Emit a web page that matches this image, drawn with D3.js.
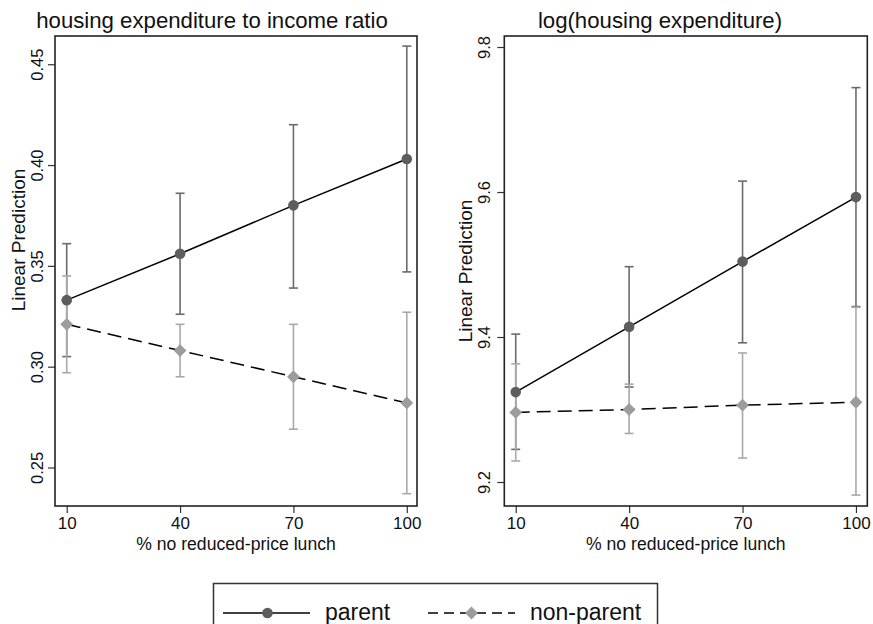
<html>
<head>
<style>
  body { margin: 0; background: white; }
  text { font-family: "Liberation Sans", Arial, sans-serif; fill: #111; }
</style>
</head>
<body>
<svg id="chart" width="873" height="624"></svg>

<script src="https://cdn.jsdelivr.net/npm/d3@7"></script>
<script>

// ---- data ----
var xCats = [10, 40, 70, 100]
var xTickLabels = ["10", "40", "70", "100"]
var seriesNames = ["parent", "non-parent"]

// panel 1: housing expenditure to income ratio
var ratioParent    = [0.333, 0.356, 0.380, 0.403]
var ratioParentLo  = [0.305, 0.326, 0.339, 0.347]
var ratioParentHi  = [0.361, 0.386, 0.420, 0.459]
var ratioNonpar    = [0.321, 0.308, 0.295, 0.282]
var ratioNonparLo  = [0.297, 0.295, 0.269, 0.237]
var ratioNonparHi  = [0.345, 0.321, 0.321, 0.327]
var ratioTicks = [0.25, 0.30, 0.35, 0.40, 0.45]

// panel 2: log(housing expenditure)
var logParent    = [9.324, 9.414, 9.504, 9.593]
var logParentLo  = [9.245, 9.331, 9.392, 9.442]
var logParentHi  = [9.404, 9.497, 9.615, 9.744]
var logNonpar    = [9.296, 9.300, 9.306, 9.310]
var logNonparLo  = [9.229, 9.267, 9.233, 9.182]
var logNonparHi  = [9.363, 9.335, 9.378, 9.441]
var logTicks = [9.2, 9.4, 9.6, 9.8]

// ---- styles ----
var parentCI = "#6b6b6b", nonparCI = "#a9a9a9"
var parentDot = "#5d5d5d", nonparDot = "#9c9c9c"

var svg = d3.select("#chart")

function rows(est, lo, hi) {   // zip arrays into point objects
  return xCats.map(function(x, i) { return {x: x, y: est[i], lo: lo[i], hi: hi[i]} })
}

var panels = [
  { title: "housing expenditure to income ratio", titleX: 212,
    box: [55, 36, 417, 506], xdom: [6.9, 102.7], ydom: [0.2309, 0.4640],
    ticks: ratioTicks, fmt: d3.format(".2f"), labOff: 12, ytitleX: 25, ytitleY: 240,
    parent: rows(ratioParent, ratioParentLo, ratioParentHi),
    nonpar: rows(ratioNonpar, ratioNonparLo, ratioNonparHi) },
  { title: "log(housing expenditure)", titleX: 660,
    box: [504.3, 36, 867.3, 506], xdom: [6.98, 103], ydom: [9.1669, 9.8152],
    ticks: logTicks, fmt: d3.format(".1f"), labOff: 14, ytitleX: 472, ytitleY: 271,
    parent: rows(logParent, logParentLo, logParentHi),
    nonpar: rows(logNonpar, logNonparLo, logNonparHi) }
]

// diamond marker, half-diagonal h
function diamondPath(h) { return "M0," + (-h) + "L" + h + ",0L0," + h + "L" + (-h) + ",0Z" }

panels.forEach(function(p) {
  var x = d3.scaleLinear().domain(p.xdom).range([p.box[0], p.box[2]])
  var y = d3.scaleLinear().domain(p.ydom).range([p.box[3], p.box[1]])

  // title
  svg.append("text")
    .attr("x", p.titleX).attr("y", 28)
    .attr("text-anchor", "middle")
    .style("font-size", "22.2px")
    .text(p.title)

  // x axis
  var gx = svg.append("g")
    .attr("transform", "translate(0," + p.box[3] + ")")
    .call(d3.axisBottom(x).tickValues(xCats).tickFormat(function(d, i) { return xTickLabels[i] }).tickSize(7))
  gx.select(".domain").remove()
  gx.selectAll("line").attr("stroke", "#333").attr("stroke-width", 1.2)
  gx.selectAll("text").attr("y", 23).attr("dy", 0)
    .style("font-size", "17px").style("font-family", "Liberation Sans, Arial, sans-serif").attr("fill", "#111")

  svg.append("text")
    .attr("x", (p.box[0] + p.box[2]) / 2).attr("y", 550)
    .attr("text-anchor", "middle")
    .style("font-size", "17.6px")
    .text("% no reduced-price lunch")

  // y axis, labels turned sideways like Stata
  var gy = svg.append("g")
    .attr("transform", "translate(" + p.box[0] + ",0)")
    .call(d3.axisLeft(y).tickValues(p.ticks).tickFormat(p.fmt).tickSize(7))
  gy.select(".domain").remove()
  gy.selectAll("line").attr("stroke", "#333").attr("stroke-width", 1.2)
  gy.selectAll("text")
    .attr("transform", "rotate(-90)")
    .attr("x", 0).attr("y", -p.labOff).attr("dy", 0)
    .attr("text-anchor", "middle")
    .style("font-size", "16.5px").style("font-family", "Liberation Sans, Arial, sans-serif").attr("fill", "#111")

  svg.append("text")
    .attr("transform", "translate(" + p.ytitleX + "," + p.ytitleY + ") rotate(-90)")
    .attr("text-anchor", "middle")
    .style("font-size", "19px")
    .text("Linear Prediction")

  // frame
  svg.append("rect")
    .attr("x", p.box[0]).attr("y", p.box[1])
    .attr("width", p.box[2] - p.box[0]).attr("height", p.box[3] - p.box[1])
    .attr("fill", "none").attr("stroke", "#222").attr("stroke-width", 1.6)

  // error bars: parent first, non-parent on top
  ;[[p.parent, parentCI], [p.nonpar, nonparCI]].forEach(function(s) {
    var g = svg.append("g").attr("stroke", s[1]).attr("stroke-width", 1.6)
    g.selectAll(".v").data(s[0]).enter().append("line")
      .attr("x1", d => x(d.x)).attr("x2", d => x(d.x))
      .attr("y1", d => y(d.lo)).attr("y2", d => y(d.hi))
    g.selectAll(".capHi").data(s[0]).enter().append("line")
      .attr("x1", d => x(d.x) - 4.5).attr("x2", d => x(d.x) + 4.5)
      .attr("y1", d => y(d.hi)).attr("y2", d => y(d.hi))
    g.selectAll(".capLo").data(s[0]).enter().append("line")
      .attr("x1", d => x(d.x) - 4.5).attr("x2", d => x(d.x) + 4.5)
      .attr("y1", d => y(d.lo)).attr("y2", d => y(d.lo))
  })

  var line = d3.line().x(d => x(d.x)).y(d => y(d.y))

  svg.append("path").attr("d", line(p.parent))
    .attr("fill", "none").attr("stroke", "#000").attr("stroke-width", 1.5)
  svg.append("path").attr("d", line(p.nonpar))
    .attr("fill", "none").attr("stroke", "#000").attr("stroke-width", 1.5)
    .attr("stroke-dasharray", "14,7")

  svg.selectAll(null).data(p.parent).enter().append("circle")
    .attr("cx", d => x(d.x)).attr("cy", d => y(d.y)).attr("r", 5.3)
    .attr("fill", parentDot)
  svg.selectAll(null).data(p.nonpar).enter().append("path")
    .attr("d", diamondPath(6.4))
    .attr("transform", d => "translate(" + x(d.x) + "," + y(d.y) + ")")
    .attr("fill", nonparDot)
})

// legend
var leg = svg.append("g")
leg.append("rect")
  .attr("x", 213.5).attr("y", 583.5).attr("width", 444).attr("height", 60)
  .attr("fill", "none").attr("stroke", "#333").attr("stroke-width", 1.5)

leg.append("line").attr("x1", 223).attr("x2", 310).attr("y1", 613).attr("y2", 613)
  .attr("stroke", "#000").attr("stroke-width", 1.5)
leg.append("circle").attr("cx", 267.5).attr("cy", 613).attr("r", 5.3).attr("fill", parentDot)
leg.append("text").attr("x", 325).attr("y", 620).style("font-size", "23px").text(seriesNames[0])

leg.append("line").attr("x1", 428).attr("x2", 515).attr("y1", 613).attr("y2", 613)
  .attr("stroke", "#000").attr("stroke-width", 1.5).attr("stroke-dasharray", "10,6")
leg.append("path").attr("d", diamondPath(6.4)).attr("transform", "translate(471.5,613)").attr("fill", nonparDot)
leg.append("text").attr("x", 530).attr("y", 620).style("font-size", "23px").text(seriesNames[1])

</script>
</body>
</html>
